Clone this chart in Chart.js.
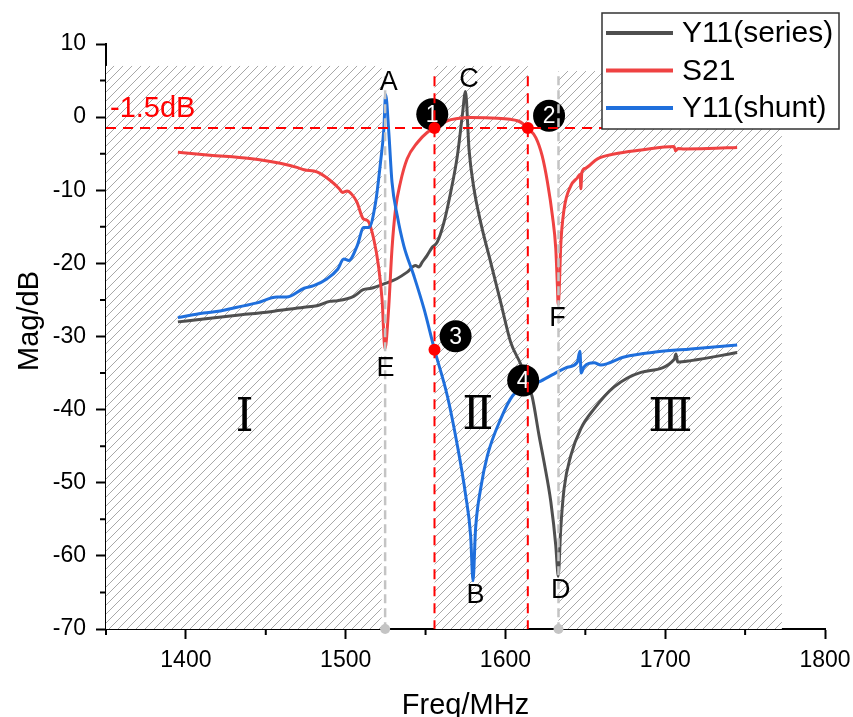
<!DOCTYPE html>
<html>
<head>
<meta charset="utf-8">
<script src="https://cdn.jsdelivr.net/npm/chart.js@4.4.1/dist/chart.umd.min.js"></script>
<style>
body{margin:0;background:#fff;}
</style>
</head>
<body>
<canvas id="myChart" width="853" height="717"></canvas>
<script>
//曲线数据 Freq/MHz , Mag/dB
var seriesFreq=[1395,1411,1432,1453,1474,1482,1490,1495,1505,1511,1516,1524,1532,1538.5,1543.7,1545.8,1548,1551,1554.2,1557.3,1561.5,1565.7,1569.9,1573,1575,1577.2,1580.3,1584.5,1590.8,1597,1603.3,1609.6,1613,1616.8,1621,1624.2,1628.4,1631.5,1632.5,1633,1634.6,1636.7,1640.9,1647.2,1655.5,1668,1684.8,1705.7,1706.7,1707.8,1716,1745];
var seriesMag=[-28,-27.6,-27.1,-26.6,-26,-25.8,-25.2,-25.1,-24.5,-23.6,-23.4,-22.8,-22.1,-21.2,-20.3,-20.5,-19.8,-18.9,-17.8,-17.1,-14.4,-10.3,-5.3,0.2,3.5,-4.4,-9.8,-14.4,-19.9,-25.3,-30.8,-33.8,-35.8,-38.3,-43.5,-47.2,-52.6,-58.6,-61.7,-62.8,-56.3,-50.8,-46.3,-42.6,-39.9,-36.9,-34.9,-33.1,-32.4,-33.5,-33.3,-32.2];
var s21Freq=[1395,1415,1440,1459,1470,1474,1482,1490,1496,1498,1501,1504,1507,1511,1514,1517.6,1520.7,1522.8,1524.6,1526.8,1529,1531.2,1534.3,1538.5,1544.8,1551,1555.6,1563.6,1570,1578,1595,1603,1607.5,1611,1614,1619,1623,1626.3,1629.4,1631.5,1632.5,1633,1633.6,1634.6,1636.7,1640.9,1645,1646.8,1647.2,1647.8,1650,1657.6,1668,1685,1705.5,1706.5,1708,1712,1726.6,1745];
var s21Mag=[-4.8,-5.2,-5.65,-6.3,-6.9,-7.2,-7.5,-8.6,-9.8,-10.3,-10.1,-10.6,-11.6,-13.9,-14.2,-16.7,-20.6,-25,-31.7,-26.5,-18,-12.6,-8.9,-5.7,-3.5,-2.1,-1.5,-0.5,-0.2,-0.05,-0.14,-0.3,-0.5,-0.9,-1.5,-2.8,-5.3,-8.9,-13.5,-18,-23,-25.6,-23.9,-17.6,-12.6,-9.4,-8.3,-7.8,-9.8,-7.6,-7,-5.7,-5.05,-4.5,-4,-4.6,-4.3,-4.35,-4.3,-4.15];
var shuntFreq=[1395,1411,1421.5,1432,1444.5,1457,1463,1474,1480,1488.4,1495,1498.8,1502,1507.2,1511.3,1514.5,1518.7,1521.8,1523.9,1525,1527,1529,1532.3,1536.4,1542.7,1549,1555.6,1563.6,1569.9,1575.1,1578.2,1579.7,1581.3,1584.5,1588.7,1597,1604.5,1613,1621,1630.5,1638.8,1645,1646.6,1647.4,1649,1655.5,1659.7,1674.3,1695.2,1716,1745];
var shuntMag=[-27.4,-26.8,-26.5,-26,-25.4,-24.6,-24.6,-23.4,-23.05,-22.1,-20.8,-19.4,-19.6,-17.6,-15.1,-15.1,-11.7,-6.2,-1.6,3.1,-2.1,-8.9,-13.5,-17.6,-21.7,-26.2,-31.8,-38.1,-44.9,-51.7,-57.2,-63.4,-56.3,-50.8,-46.3,-41.3,-38.1,-36.9,-36.2,-35.1,-34.2,-33.5,-32,-35,-34.2,-33.6,-33.9,-32.8,-32.1,-31.7,-31.15];
//坐标轴刻度
var xTicks=[1400,1500,1600,1700,1800];
var xMinor=[1350,1450,1550,1650,1750];
var yTicks=[10,0,-10,-20,-30,-40,-50,-60,-70];
var yMinor=[5,-5,-15,-25,-35,-45,-55,-65];
//阴影区间
var zoneFrom=[1350,1555.6,1633.2];
var zoneTo=[1522.5,1614,1773];
var zoneTop=[7,7,6.3];
var zoneNames=['Ⅰ','Ⅱ','Ⅲ'];
var zoneNameX=[1436.7,1582.8,1703.2];
var zoneNameY=[-41.3,-41,-41.3];
//参考线和标注
var cutLevel=-1.5;
var cutEnd=1738;
var redLineX=[1555.6,1614];
var grayLineX=[1524.7,1633.2];
var lineTop=5.6;
var dotX=[1555.6,1614,1555.6];
var dotY=[-1.5,-1.5,-31.8];
var numText=['1','2','3','4'];
var numX=[1554.2,1627.3,1568.8,1611.1];
var numY=[0.4,0.18,-29.96,-36];
var letters=['A','B','C','D','E','F'];
var letterX=[1527,1581.3,1577.2,1634.6,1524.9,1632.6];
var letterY=[4.74,-65.4,5.2,-64.7,-34.4,-27.6];

function toPts(xs,ys){
	var arr=[];
	for(var i=0;i<xs.length;i++){arr.push({x:xs[i],y:ys[i]});}
	return arr;
}

var FONT='"Liberation Sans", Arial, sans-serif';
Chart.defaults.font.family=FONT;
Chart.defaults.color='#000';
Chart.defaults.animation=false;

var datasets=[
	{label:'Y11(series)',data:toPts(seriesFreq,seriesMag),borderColor:'#4f4f4f',borderWidth:3,pointRadius:0,cubicInterpolationMode:'monotone',order:12,inLegend:true},
	{label:'S21',data:toPts(s21Freq,s21Mag),borderColor:'#ef4242',borderWidth:3,pointRadius:0,cubicInterpolationMode:'monotone',order:11,inLegend:true},
	{label:'Y11(shunt)',data:toPts(shuntFreq,shuntMag),borderColor:'#1f6fdc',borderWidth:3,pointRadius:0,cubicInterpolationMode:'monotone',order:10,inLegend:true,numbersAfter:true},
	{label:'cut',data:[{x:1350,y:cutLevel},{x:cutEnd,y:cutLevel}],borderColor:'#ff0000',borderWidth:2,borderDash:[10,7],pointRadius:0,order:5}
];
redLineX.forEach(function(v){
	datasets.push({label:'red',data:[{x:v,y:lineTop},{x:v,y:-70}],borderColor:'#ff0000',borderWidth:2,borderDash:[10,7],pointRadius:0,order:4,clip:false});
});
grayLineX.forEach(function(v){
	datasets.push({label:'gray',data:[{x:v,y:lineTop},{x:v,y:-70}],borderColor:'#c4c4c4',borderWidth:2.5,borderDash:[9,5],pointRadius:0,order:6,clip:false});
});
datasets.push({label:'grayDot',data:grayLineX.map(function(v){return {x:v,y:-70};}),showLine:false,pointRadius:5,pointBackgroundColor:'#c4c4c4',pointBorderWidth:0,order:1,clip:false});
datasets.push({label:'redDot',data:toPts(dotX,dotY),showLine:false,pointRadius:6,pointBackgroundColor:'#ff0000',pointBorderWidth:0,order:0,clip:false});

//斜线阴影
function makeHatch(ctx){
	var c=document.createElement('canvas');
	c.width=9;c.height=9;
	var g=c.getContext('2d');
	g.fillStyle='#fff';g.fillRect(0,0,9,9);
	g.strokeStyle='#a8a8a8';g.lineWidth=1;
	g.beginPath();
	g.moveTo(0,9);g.lineTo(9,0);
	g.moveTo(-1,1);g.lineTo(1,-1);
	g.moveTo(8,10);g.lineTo(10,8);
	g.stroke();
	return ctx.createPattern(c,'repeat');
}

var extras={
	id:'extras',
	beforeDatasetsDraw:function(chart){
		var ctx=chart.ctx,xs=chart.scales.x,ys=chart.scales.y;
		ctx.save();
		ctx.fillStyle=makeHatch(ctx);
		for(var i=0;i<zoneFrom.length;i++){
			var x0=xs.getPixelForValue(zoneFrom[i]),x1=xs.getPixelForValue(zoneTo[i]);
			var y0=ys.getPixelForValue(zoneTop[i]),y1=ys.getPixelForValue(-70);
			ctx.fillRect(x0,y0,x1-x0,y1-y0);
		}
		ctx.fillStyle='#000';
		ctx.font='46px "DejaVu Serif", "Liberation Serif", serif';
		ctx.textAlign='center';ctx.textBaseline='middle';
		for(var j=0;j<zoneNames.length;j++){
			ctx.fillText(zoneNames[j],xs.getPixelForValue(zoneNameX[j]),ys.getPixelForValue(zoneNameY[j]));
		}
		//-1.5dB
		ctx.fillStyle='#ff0000';
		ctx.font='29px '+FONT;
		ctx.textAlign='left';ctx.textBaseline='alphabetic';
		ctx.fillText('-1.5dB',xs.getPixelForValue(1352.5),ys.getPixelForValue(0));
		ctx.restore();
	},
	afterDatasetDraw:function(chart,args){
		if(!chart.data.datasets[args.index].numbersAfter) return;
		var ctx=chart.ctx,xs=chart.scales.x,ys=chart.scales.y;
		ctx.save();
		for(var i=0;i<numText.length;i++){
			var px=xs.getPixelForValue(numX[i]),py=ys.getPixelForValue(numY[i]);
			ctx.fillStyle='#000';
			ctx.beginPath();ctx.arc(px,py,16,0,Math.PI*2);ctx.fill();
			ctx.fillStyle='#fff';
			ctx.font='23px '+FONT;
			ctx.textAlign='center';ctx.textBaseline='middle';
			ctx.fillText(numText[i],px,py+1);
		}
		ctx.restore();
	},
	afterDatasetsDraw:function(chart){
		var ctx=chart.ctx,xs=chart.scales.x,ys=chart.scales.y;
		ctx.save();
		ctx.fillStyle='#000';
		ctx.font='27px '+FONT;
		ctx.textAlign='center';ctx.textBaseline='middle';
		for(var i=0;i<letters.length;i++){
			ctx.fillText(letters[i],xs.getPixelForValue(letterX[i]),ys.getPixelForValue(letterY[i]));
		}
		ctx.restore();
	},
	afterDraw:function(chart){
		var ctx=chart.ctx,xs=chart.scales.x,ys=chart.scales.y,a=chart.chartArea;
		ctx.save();
		//次刻度
		ctx.strokeStyle='#000';ctx.lineWidth=2;
		ctx.beginPath();
		xMinor.forEach(function(v){var p=xs.getPixelForValue(v);ctx.moveTo(p,a.bottom);ctx.lineTo(p,a.bottom+6);});
		yMinor.forEach(function(v){var p=ys.getPixelForValue(v);ctx.moveTo(a.left,p);ctx.lineTo(a.left-6,p);});
		ctx.stroke();
		//坐标轴标题
		ctx.fillStyle='#000';
		ctx.font='29px '+FONT;
		ctx.textAlign='center';ctx.textBaseline='alphabetic';
		ctx.fillText('Freq/MHz',(a.left+a.right)/2,714);
		ctx.translate(38,321);ctx.rotate(-Math.PI/2);
		ctx.fillText('Mag/dB',0,0);
		ctx.restore();
		//图例
		ctx.save();
		var lx=a.right-223,ly=13,lw=237,lh=116;
		ctx.fillStyle='#fff';ctx.fillRect(lx,ly,lw,lh);
		ctx.strokeStyle='#333';ctx.lineWidth=1.5;ctx.strokeRect(lx,ly,lw,lh);
		ctx.font='30px '+FONT;ctx.textAlign='left';ctx.textBaseline='middle';
		var row=0;
		chart.data.datasets.forEach(function(d){
			if(!d.inLegend) return;
			var cy=ly+20+row*37.5;
			ctx.strokeStyle=d.borderColor;ctx.lineWidth=4;
			ctx.beginPath();ctx.moveTo(lx+4,cy);ctx.lineTo(lx+71,cy);ctx.stroke();
			ctx.fillStyle='#000';
			ctx.fillText(d.label,lx+80,cy+1);
			row++;
		});
		ctx.restore();
	}
};

var ctx1=document.getElementById('myChart');
var myChart=new Chart(ctx1,{
	type:'line',
	data:{datasets:datasets},
	plugins:[extras],
	options:{
		responsive:false,
		layout:{padding:{top:44,right:28,left:0,bottom:0}},
		plugins:{legend:{display:false},tooltip:{enabled:false}},
		scales:{
			x:{
				type:'linear',min:1350,max:1800,
				afterBuildTicks:function(s){s.ticks=xTicks.map(function(v){return {value:v};});},
				afterFit:function(s){s.height=88;s.paddingRight=0;s.paddingLeft=0;},
				grid:{drawOnChartArea:false,drawTicks:true,tickLength:10,tickWidth:2,tickColor:'#000'},
				border:{color:'#000',width:2},
				ticks:{font:{size:23},color:'#000',padding:8,maxRotation:0,autoSkip:false,callback:function(v){return String(v);}}
			},
			y:{
				type:'linear',min:-70,max:10,
				afterBuildTicks:function(s){s.ticks=yTicks.map(function(v){return {value:v};});},
				afterFit:function(s){s.width=106;s.paddingTop=0;s.paddingBottom=0;},
				grid:{drawOnChartArea:false,drawTicks:true,tickLength:10,tickWidth:2,tickColor:'#000'},
				border:{color:'#000',width:2},
				ticks:{font:{size:23},color:'#000',padding:10,autoSkip:false,callback:function(v){return String(v);}}
			}
		}
	}
});
</script>
</body>
</html>
